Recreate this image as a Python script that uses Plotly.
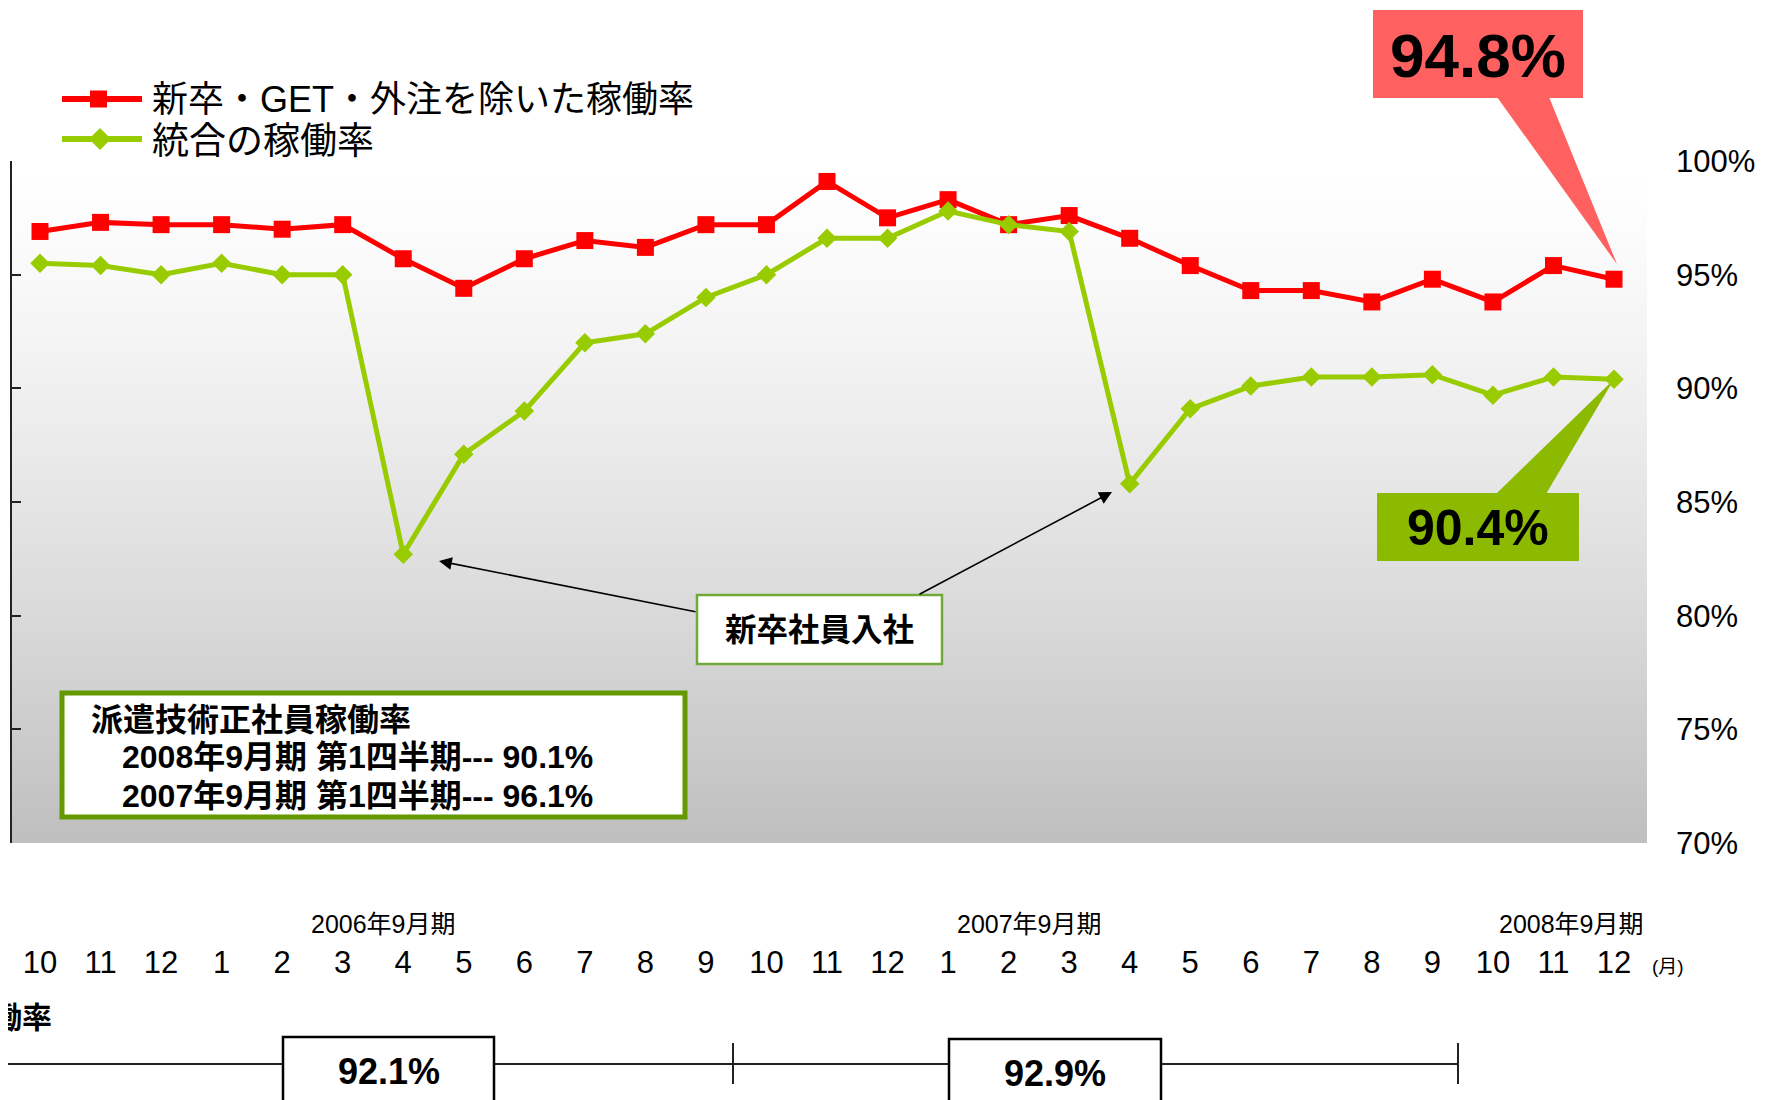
import plotly.graph_objects as go

# ---------------- data ----------------
months = ["10", "11", "12", "1", "2", "3", "4", "5", "6", "7", "8", "9",
          "10", "11", "12", "1", "2", "3", "4", "5", "6", "7", "8", "9",
          "10", "11", "12"]
red_rate = [96.9, 97.3, 97.2, 97.2, 97.0, 97.2, 95.7, 94.4, 95.7, 96.5, 96.2, 97.2,
            97.2, 99.1, 97.5, 98.3, 97.2, 97.6, 96.6, 95.4, 94.3, 94.3, 93.8, 94.8,
            93.8, 95.4, 94.8]
green_rate = [95.5, 95.4, 95.0, 95.5, 95.0, 95.0, 82.7, 87.1, 89.0, 92.0, 92.4, 94.0,
              95.0, 96.6, 96.6, 97.8, 97.2, 96.9, 85.8, 89.1, 90.1, 90.5, 90.5, 90.6,
              89.7, 90.5, 90.4]
series_names = ["新卒・GET・外注を除いた稼働率", "統合の稼働率"]
y_ticks = [70, 75, 80, 85, 90, 95, 100]
y_ticktext = [f"{v}%" for v in y_ticks]
fy_labels = ["2006年9月期", "2007年9月期", "2008年9月期"]
fy_avg = ["92.1%", "92.9%"]
red_callout = "94.8%"
green_callout = "90.4%"
event_label = "新卒社員入社"
info_title = "派遣技術正社員稼働率"
info_lines = ["2008年9月期 第1四半期--- 90.1%", "2007年9月期 第1四半期--- 96.1%"]
cut_label = "稼働率"
month_unit = "(月)"

RED = "#ff0000"
GREEN = "#99cc00"
FONT = "Arial, Liberation Sans, Noto Sans CJK JP, sans-serif"

W, H = 1765, 1100
PAGE_OFF = 8  # browser body margin
L, R, T, B = 12, 1647, 161, 843   # plot area in screen pixels
xr = [-0.4625, 26.545]
yr = [70, 100]
idx = list(range(len(months)))


def px(x):
    return (x - L) / (R - L)


def py(y):
    return (B - y) / (B - T)


def dx(i):
    return L + (i - xr[0]) / (xr[1] - xr[0]) * (R - L)


def dy(v):
    return B - (v - yr[0]) / (yr[1] - yr[0]) * (B - T)


fig = go.Figure()
fig.add_trace(go.Scatter(
    x=idx, y=red_rate, mode="lines+markers", name=series_names[0],
    line=dict(color=RED, width=5),
    marker=dict(symbol="square", size=17, color=RED, line=dict(width=0)),
    yaxis="y", hoverinfo="skip", showlegend=False))
fig.add_trace(go.Scatter(
    x=idx, y=green_rate, mode="lines+markers", name=series_names[1],
    line=dict(color=GREEN, width=5),
    marker=dict(symbol="diamond", size=15, color=GREEN, line=dict(width=0)),
    yaxis="y2", hoverinfo="skip", showlegend=False))

shapes = []
annotations = []

# gradient background of plot area
nb = 170
for k in range(nb):
    t = k / (nb - 1)
    c = int(round(255 - 64 * (t ** 1.3)))
    y0 = T + (B - T) * k / nb
    y1 = T + (B - T) * (k + 1) / nb + 0.8
    shapes.append(dict(type="rect", xref="paper", yref="paper", layer="below",
                       x0=0, x1=1, y0=py(min(y1, B)), y1=py(y0),
                       fillcolor=f"rgb({c},{c},{c})", line=dict(width=0)))

# callouts
tip_r = (dx(idx[-1]) + 3, dy(red_rate[-1]) - 15)
shapes.append(dict(type="path", xref="paper", yref="paper", layer="below",
                   path=f"M {px(1497)},{py(97)} L {px(1549)},{py(97)} L {px(tip_r[0])},{py(tip_r[1])} Z",
                   fillcolor="#ff6161", line=dict(width=0)))
shapes.append(dict(type="rect", xref="paper", yref="paper", layer="below",
                   x0=px(1373), x1=px(1583), y0=py(98), y1=py(10),
                   fillcolor="#ff6161", line=dict(width=0)))
annotations.append(dict(xref="paper", yref="paper", x=px(1478), y=py(56), text=f"<b>{red_callout}</b>",
                        showarrow=False, font=dict(size=62, color="black", family=FONT),
                        xanchor="center", yanchor="middle"))

tip_g = (dx(idx[-1]), dy(green_rate[-1]))
shapes.append(dict(type="path", xref="paper", yref="paper", layer="below",
                   path=f"M {px(1496)},{py(494)} L {px(1546)},{py(494)} L {px(tip_g[0])},{py(tip_g[1])} Z",
                   fillcolor="#8cba00", line=dict(width=0)))
shapes.append(dict(type="rect", xref="paper", yref="paper", layer="below",
                   x0=px(1377), x1=px(1579), y0=py(561), y1=py(493),
                   fillcolor="#8cba00", line=dict(width=0)))
annotations.append(dict(xref="paper", yref="paper", x=px(1478), y=py(528), text=f"<b>{green_callout}</b>",
                        showarrow=False, font=dict(size=50, color="black", family=FONT),
                        xanchor="center", yanchor="middle"))

# legend (manual)
shapes.append(dict(type="line", xref="paper", yref="paper", x0=px(62), x1=px(142), y0=py(99), y1=py(99),
                   line=dict(color=RED, width=6)))
shapes.append(dict(type="rect", xref="paper", yref="paper", x0=px(90), x1=px(107), y0=py(107.5), y1=py(90.5),
                   fillcolor=RED, line=dict(width=0)))
shapes.append(dict(type="line", xref="paper", yref="paper", x0=px(62), x1=px(142), y0=py(139), y1=py(139),
                   line=dict(color=GREEN, width=6)))
shapes.append(dict(type="path", xref="paper", yref="paper",
                   path=f"M {px(89)},{py(139)} L {px(100)},{py(128)} L {px(111)},{py(139)} L {px(100)},{py(150)} Z",
                   fillcolor=GREEN, line=dict(width=0)))
annotations.append(dict(xref="paper", yref="paper", x=px(150), y=py(99), text=series_names[0],
                        showarrow=False, font=dict(size=36, color="black", family=FONT),
                        xanchor="left", yanchor="middle"))
annotations.append(dict(xref="paper", yref="paper", x=px(150), y=py(141), text=series_names[1],
                        showarrow=False, font=dict(size=37, color="black", family=FONT),
                        xanchor="left", yanchor="middle"))

# event box + arrows
shapes.append(dict(type="rect", xref="paper", yref="paper", x0=px(697), x1=px(942), y0=py(664), y1=py(595),
                   fillcolor="white", line=dict(color="#70a83a", width=2.5)))
annotations.append(dict(xref="paper", yref="paper", x=px(819.5), y=py(630), text=f"<b>{event_label}</b>",
                        showarrow=False, font=dict(size=31.5, color="black", family=FONT),
                        xanchor="center", yanchor="middle"))
annotations.append(dict(xref="paper", yref="paper", x=px(439), y=py(561), text="", showarrow=True,
                        ax=697 - 439, ay=612 - 561, arrowhead=2, arrowsize=1.6, arrowwidth=1.6,
                        arrowcolor="black"))
annotations.append(dict(xref="paper", yref="paper", x=px(1112), y=py(492), text="", showarrow=True,
                        ax=918 - 1112, ay=595 - 492, arrowhead=2, arrowsize=1.6, arrowwidth=1.6,
                        arrowcolor="black"))

# info box
shapes.append(dict(type="rect", xref="paper", yref="paper", x0=px(62), x1=px(685), y0=py(817), y1=py(693),
                   fillcolor="white", line=dict(color="#669900", width=5)))
annotations.append(dict(xref="paper", yref="paper", x=px(89), y=py(720), text=f"<b>{info_title}</b>",
                        showarrow=False, font=dict(size=32, color="black", family=FONT),
                        xanchor="left", yanchor="middle"))
for k, line in enumerate(info_lines):
    annotations.append(dict(xref="paper", yref="paper", x=px(120), y=py(757 + 39 * k), text=f"<b>{line}</b>",
                            showarrow=False, font=dict(size=32, color="black", family=FONT),
                            xanchor="left", yanchor="middle"))

# fiscal year labels
for lab, cx in zip(fy_labels, [383, 1030, 1571]):
    annotations.append(dict(xref="paper", yref="paper", x=px(cx), y=py(924), text=lab,
                            showarrow=False, font=dict(size=25, color="black", family=FONT),
                            xanchor="center", yanchor="middle"))
annotations.append(dict(xref="paper", yref="paper", x=px(1650), y=py(966), text=month_unit,
                        showarrow=False, font=dict(size=19, color="black", family=FONT),
                        xanchor="left", yanchor="middle"))

# bottom bracket
annotations.append(dict(xref="paper", yref="paper", x=px(54), y=py(1017), text=f"<b>{cut_label}</b>",
                        showarrow=False, font=dict(size=30, color="black", family=FONT),
                        xanchor="right", yanchor="middle"))
shapes.append(dict(type="line", xref="paper", yref="paper", x0=px(7), x1=px(1458), y0=py(1064), y1=py(1064),
                   line=dict(color="#222", width=2)))
for vx in [7, 733, 1458]:
    shapes.append(dict(type="line", xref="paper", yref="paper", x0=px(vx), x1=px(vx), y0=py(1043), y1=py(1084),
                       line=dict(color="#222", width=2)))
for lab, (bx0, bx1, by0) in zip(fy_avg, [(283, 494, 1037), (949, 1161, 1039)]):
    shapes.append(dict(type="rect", xref="paper", yref="paper", x0=px(bx0), x1=px(bx1), y0=py(1112), y1=py(by0),
                       fillcolor="white", line=dict(color="black", width=2.5)))
    annotations.append(dict(xref="paper", yref="paper", x=px((bx0 + bx1) / 2), y=py(by0 + 34), text=f"<b>{lab}</b>",
                            showarrow=False, font=dict(size=36, color="black", family=FONT),
                            xanchor="center", yanchor="middle"))

fig.update_layout(
    width=W, height=H,
    margin=dict(l=L - PAGE_OFF, r=W - R + PAGE_OFF, t=T - PAGE_OFF, b=H - B + PAGE_OFF, pad=0),
    paper_bgcolor="white", plot_bgcolor="rgba(0,0,0,0)",
    font=dict(family=FONT, color="black"),
    showlegend=False, hovermode=False,
    shapes=shapes, annotations=annotations,
    xaxis=dict(range=xr, tickmode="array", tickvals=idx, ticktext=months, ticks="",
               showline=False, showgrid=False, zeroline=False,
               tickfont=dict(size=31, color="black", family=FONT), ticklabelstandoff=98),
    yaxis=dict(range=yr, tickmode="array", tickvals=y_ticks, showticklabels=False,
               ticks="inside", ticklen=9, tickwidth=1.5, tickcolor="#222",
               showline=True, linecolor="#222", linewidth=1.5, showgrid=False, zeroline=False),
    yaxis2=dict(range=yr, overlaying="y", side="right", tickmode="array", tickvals=y_ticks,
                ticktext=y_ticktext, ticks="", showline=False, showgrid=False, zeroline=False,
                tickfont=dict(size=31, color="black", family=FONT), ticklabelstandoff=28),
)

fig.write_html("out.html")
